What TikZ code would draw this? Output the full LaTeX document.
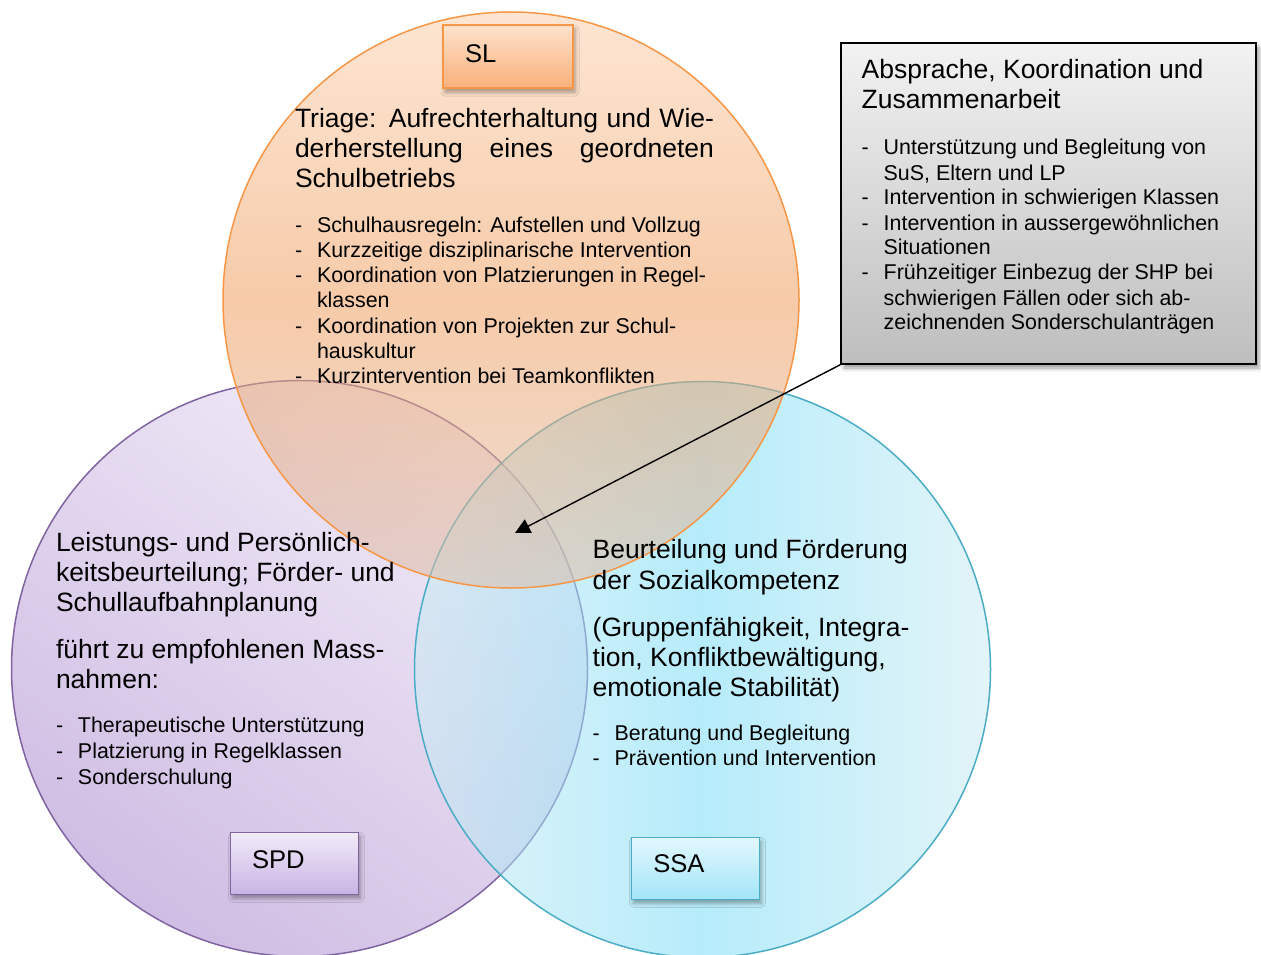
\documentclass[tikz,border=0pt]{standalone}
\usepackage{fontspec}
\setmainfont{Liberation Sans}
\usetikzlibrary{shadows.blur,arrows.meta}
\definecolor{slline}{HTML}{F79646}
\definecolor{spdline}{HTML}{8064A2}
\definecolor{ssaline}{HTML}{4BACC6}
\definecolor{sltop}{HTML}{FBD0AD}
\definecolor{slmid}{HTML}{F0A062}
\definecolor{slbot}{HTML}{DDBFAC}
\definecolor{spdlight}{HTML}{E6DCF2}
\definecolor{spddark}{HTML}{A886CC}
\definecolor{ssalight}{HTML}{CBEBF3}
\definecolor{ssamid}{HTML}{7ADCF6}
\definecolor{slbtop}{HTML}{FEE2CC}
\definecolor{slbbot}{HTML}{F9B07A}
\definecolor{spdbtop}{HTML}{F1EBF8}
\definecolor{spdbbot}{HTML}{C9B3E4}
\definecolor{ssabtop}{HTML}{E2F8FE}
\definecolor{ssabbot}{HTML}{A3E5F8}
\definecolor{graytop}{HTML}{F2F2F2}
\definecolor{graybot}{HTML}{BEBEBE}
\newcommand\bigtxt{\fontsize{26.5}{30}\selectfont}
\newcommand\smtxt{\fontsize{21.4}{25.3}\selectfont}
\newcommand\blk[1]{\vtop{\hsize=700pt\parskip=0pt\parindent=0pt #1\par}}
\newcommand\itm[1]{\par\hangindent=22pt\hangafter=1\noindent\hbox to 22pt{-\hfil}#1}
\tikzset{
  txt/.style={anchor=base west, inner sep=0pt, outer sep=0pt},
  venn/.style={circle, minimum size=576pt, inner sep=0pt, line width=1.5pt, fill opacity=0.55},
  lblbox/.style={rectangle, minimum width=128pt, minimum height=62pt, inner sep=0pt, line width=1.5pt,
    blur shadow={shadow xshift=2pt, shadow yshift=-4pt, shadow blur radius=4pt, shadow opacity=35}},
  arw/.style={line width=1.4pt, -{Triangle[length=15pt,width=15pt]}}
}
\begin{document}
\begin{tikzpicture}[x=1pt,y=-1pt]
\useasboundingbox (0,0) rectangle (1261,955);
% circles
\node[venn, draw=spdline, top color=spdlight, bottom color=spddark, shading angle=-35] (spdc) at (299.5,668.5) {};
\node[venn, draw=ssaline, left color=ssalight, right color=ssalight, middle color=ssamid] (ssac) at (702.5,669.5) {};
\node[venn, draw=slline, top color=sltop, bottom color=slbot, middle color=slmid] (slc) at (511,300) {};
% label boxes
\node[lblbox, draw=slline, top color=slbtop, bottom color=slbbot, minimum width=130pt, minimum height=63pt] (slbox) at (508,56.5) {};
\node[txt] (sllabel) at (465,62.7) {\fontsize{25.6}{30}\selectfont SL};
\node[lblbox, draw=spdline, top color=spdbtop, bottom color=spdbbot] (spdbox) at (294.5,863.3) {};
\node[txt] (spdlabel) at (252,868.3) {\fontsize{25.6}{30}\selectfont SPD};
\node[lblbox, draw=ssaline, top color=ssabtop, bottom color=ssabbot] (ssabox) at (695.3,868.3) {};
\node[txt] (ssalabel) at (653.3,872.7) {\fontsize{25.6}{30}\selectfont SSA};
% SL text
\node[txt] (slhead) at (295,128) {\blk{\bigtxt \noindent\hbox to 419pt{Triage: Aufrechterhaltung und Wie-}\\
  \hbox to 419pt{derherstellung\hfill eines\hfill geordneten}\\
  Schulbetriebs}};
\node[txt] (sllist) at (295,232) {\blk{\smtxt
  \itm{Schulhausregeln: Aufstellen und Vollzug}
  \itm{Kurzzeitige disziplinarische Intervention}
  \itm{Koordination von Platzierungen in Regel-\\klassen}
  \itm{Koordination von Projekten zur Schul-\\hauskultur}
  \itm{Kurzintervention bei Teamkonflikten}}};
% SPD text
\node[txt] (spdhead) at (56,551.7) {\blk{\bigtxt Leistungs- und Persönlich-\\keitsbeurteilung; Förder- und\\Schullaufbahnplanung}};
\node[txt] (spdhead2) at (56,658.3) {\blk{\bigtxt führt zu empfohlenen Mass-\\nahmen:}};
\node[txt] (spdlist) at (56,732.3) {\blk{\fontsize{21.4}{26}\selectfont
  \itm{Therapeutische Unterstützung}
  \itm{Platzierung in Regelklassen}
  \itm{Sonderschulung}}};
% SSA text
\node[txt] (ssahead) at (592.7,558.3) {\blk{\fontsize{26.5}{31}\selectfont Beurteilung und Förderung\\der Sozialkompetenz}};
\node[txt] (ssahead2) at (592.7,636.7) {\blk{\bigtxt (Gruppenfähigkeit, Integra-\\tion, Konfliktbewältigung,\\emotionale Stabilität)}};
\node[txt] (ssalist) at (592.7,740.7) {\blk{\fontsize{21.4}{25}\selectfont
  \itm{Beratung und Begleitung}
  \itm{Prävention und Intervention}}};
% coordination box
\node[rectangle, draw=black, line width=1.5pt, top color=graytop, bottom color=graybot,
  minimum width=415pt, minimum height=321pt, inner sep=0pt,
  blur shadow={shadow xshift=3pt, shadow yshift=-4pt, shadow blur radius=4pt, shadow opacity=40}] (coord) at (1048.5,203.5) {};
\node[txt] (coordhead) at (861.7,78.3) {\blk{\fontsize{26.5}{30.7}\selectfont Absprache, Koordination und\\Zusammenarbeit}};
\node[txt] (coordlist) at (861.7,155) {\blk{\fontsize{21.4}{25}\selectfont
  \itm{Unterstützung und Begleitung von\\SuS, Eltern und LP}
  \itm{Intervention in schwierigen Klassen}
  \itm{Intervention in aussergewöhnlichen\\Situationen}
  \itm{Frühzeitiger Einbezug der SHP bei\\schwierigen Fällen oder sich ab-\\zeichnenden Sonderschulanträgen}}};
% arrow
\coordinate (tip) at (515,533);
\draw[arw] (coord.south west) -- (tip);
\end{tikzpicture}
\end{document}
